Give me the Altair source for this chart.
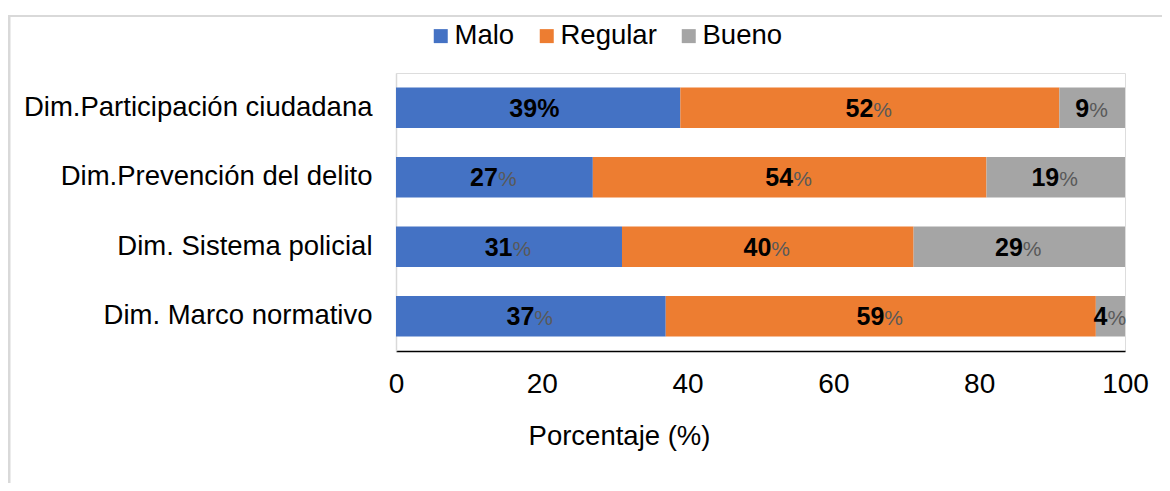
import altair as alt
import pandas as pd

categories = ["Dim.Participación ciudadana", "Dim.Prevención del delito",
              "Dim. Sistema policial", "Dim. Marco normativo"]
levels = ["Malo", "Regular", "Bueno"]
malo = [39, 27, 31, 37]
regular = [52, 54, 40, 59]
bueno = [9, 19, 29, 4]
colors = ["#4472C4", "#ED7D31", "#A5A5A5"]
bold_pct = [("Dim.Participación ciudadana", "Malo")]
x_ticks = [0, 20, 40, 60, 80, 100]

rows = []
for i, c in enumerate(categories):
    start = 0
    for lev, vals in zip(levels, [malo, regular, bueno]):
        v = vals[i]
        rows.append(dict(cat=c, level=lev, value=v, start=start, end=start + v,
                         num=str(v), bold=(c, lev) in bold_pct))
        start += v
df = pd.DataFrame(rows)

W, H = 729, 278
PX = W / 100.0
FONT = "Liberation Sans"

y_enc = alt.Y("cat:N", sort=categories,
              scale=alt.Scale(paddingInner=0.42, paddingOuter=0.21),
              axis=alt.Axis(title=None, ticks=False, domainColor="#d9d9d9", domainWidth=1.5,
                            labelFontSize=27.5, labelPadding=24, labelColor="black",
                            labelLimit=600, labelFont=FONT))

base = alt.Chart(df)

bars = base.mark_bar().encode(
    x=alt.X("start:Q", scale=alt.Scale(domain=[0, 100], nice=False),
            axis=alt.Axis(values=x_ticks, title="Porcentaje (%)", grid=False, ticks=False,
                          domainColor="black", domainWidth=1.5, labelFontSize=28,
                          labelFlush=False, labelPadding=19, labelColor="black", labelFont=FONT,
                          titleFontSize=27.5, titleFontWeight="normal", titleColor="black",
                          titleFont=FONT, titlePadding=24, titleX=223)),
    x2="end:Q",
    y=y_enc,
    color=alt.Color("level:N", scale=alt.Scale(domain=levels, range=colors),
                    legend=alt.Legend(orient="none", direction="horizontal", legendX=31,
                                      legendY=-51, title=None, symbolType="square",
                                      symbolSize=196, symbolStrokeWidth=0, symbolOpacity=1,
                                      labelFontSize=27.5, labelOffset=0, columnPadding=18,
                                      labelColor="black", labelFont=FONT, padding=0)),
)

lab = base.transform_calculate(
    mid="(datum.start + datum.end) / 2",
).transform_calculate(
    split=f"datum.bold ? datum.mid - 1/{PX} : (datum.value < 10 ? datum.mid - 3/{PX} : datum.mid + 3.5/{PX})"
)

nums = lab.mark_text(align="right", baseline="alphabetic", dy=9, fontSize=25,
                     fontWeight="bold", color="black", font=FONT).encode(
    x="split:Q", y=alt.Y("cat:N", sort=categories), text="num:N")

pct = lab.transform_filter("!datum.bold").mark_text(
    align="left", baseline="alphabetic", dy=9, fontSize=21, color="#595959", font=FONT).encode(
    x="split:Q", y=alt.Y("cat:N", sort=categories), text=alt.value("%"))

pct_b = lab.transform_filter("datum.bold").mark_text(
    align="left", baseline="alphabetic", dy=9, fontSize=25, fontWeight="bold",
    color="black", font=FONT).encode(
    x="split:Q", y=alt.Y("cat:N", sort=categories), text=alt.value("%"))

frame_src = alt.Chart(pd.DataFrame({"a": [0]}))
top_line = frame_src.mark_rule(color="#d9d9d9", strokeWidth=2).encode(
    x=alt.value(-389), x2=alt.value(780), y=alt.value(-57))
left_line = frame_src.mark_rule(color="#d9d9d9", strokeWidth=3).encode(
    x=alt.value(-387), y=alt.value(-58), y2=alt.value(430))

chart = alt.layer(top_line, left_line, bars, nums, pct, pct_b).properties(
    width=W, height=H,
    padding={"left": 388, "top": 65, "right": 37, "bottom": 132},
    autosize=alt.AutoSizeParams(type="none"),
).configure_view(stroke=None).configure(font=FONT)

chart.save("out.html", embed_options={"renderer": "svg", "actions": False})
